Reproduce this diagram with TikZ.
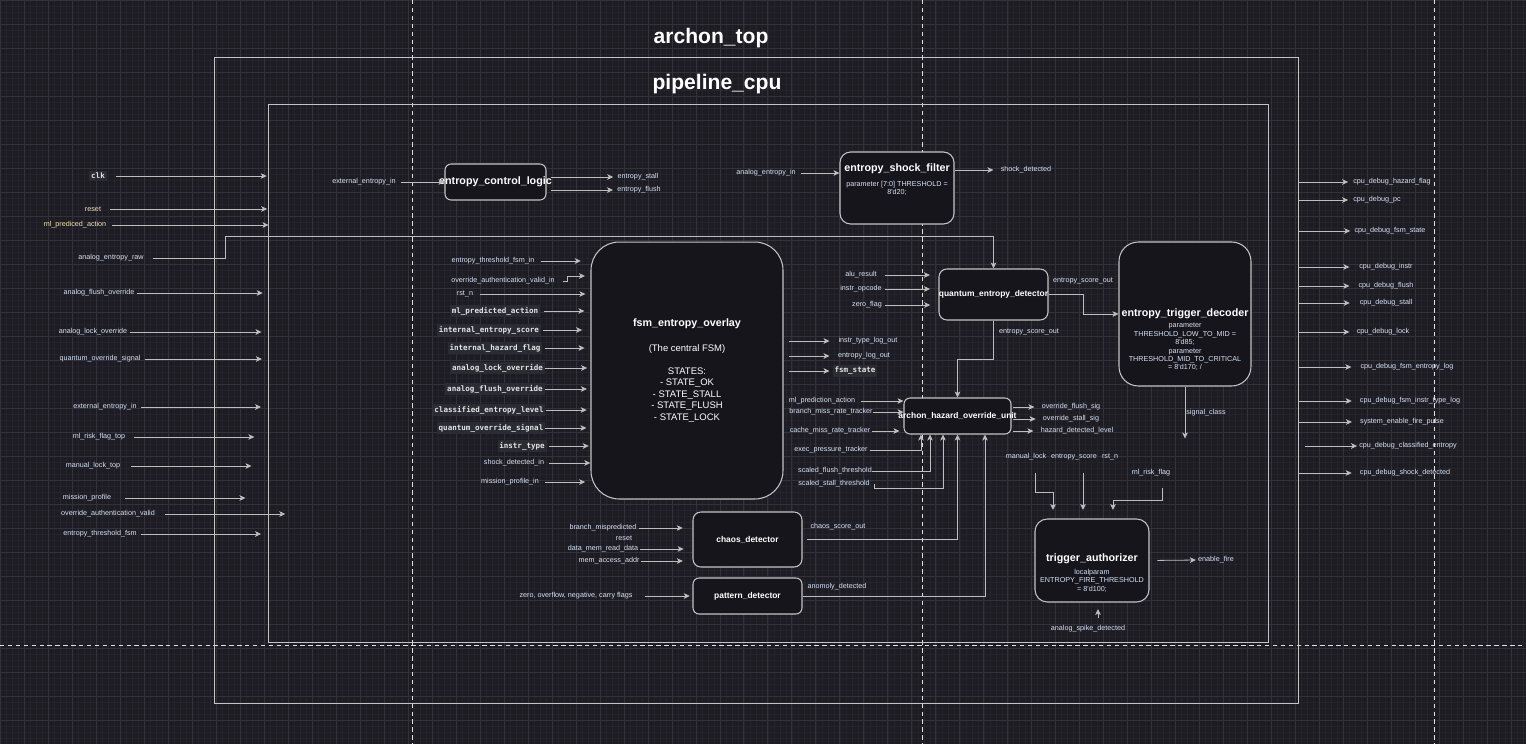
\documentclass[tikz,border=0pt]{standalone}
\usepackage{fontspec}
\setmainfont{Liberation Sans}
\setmonofont{DejaVu Sans Mono}
\usepackage{xcolor}
\usetikzlibrary{arrows.meta}

\definecolor{canvas}{HTML}{1D1C23}
\definecolor{gridminor}{HTML}{25242C}
\definecolor{gridmajor}{HTML}{33323B}
\definecolor{framecol}{HTML}{C4C4C4}
\definecolor{boxfill}{HTML}{17151C}
\definecolor{wirecol}{HTML}{BEBEBE}
\definecolor{sigtext}{HTML}{D6E2F6}
\definecolor{sigwarm}{HTML}{F2E2B4}
\definecolor{monofill}{HTML}{2B2B34}
\definecolor{monotext}{HTML}{E4E4E4}

\tikzset{
  container/.style={draw=framecol, line width=0.6pt, inner sep=0pt},
  module/.style={draw=framecol, fill=boxfill, line width=0.6pt, inner sep=0pt},
  bigtitle/.style={font=\bfseries\fontsize{12}{14}\selectfont, text=white, inner sep=0pt},
  modtitle/.style={font=\bfseries\fontsize{6.1}{7}\selectfont, text=white, inner sep=0pt},
  subtitle/.style={font=\bfseries\fontsize{4.8}{6}\selectfont, text=white, inner sep=0pt},
  paramtext/.style={font=\fontsize{4.1}{4.8}\selectfont, text=sigtext, align=center, inner sep=0pt},
  sig/.style={font=\fontsize{4.1}{5}\selectfont, text=sigtext, inner sep=0pt},
  warmsig/.style={sig, text=sigwarm},
  monosig/.style={font=\ttfamily\bfseries\fontsize{4.3}{5}\selectfont, text=monotext, fill=monofill, inner sep=1pt},
  wire/.style={draw=wirecol, line width=0.45pt},
  sigarrow/.style={wire, -{Stealth[length=3.4pt,width=3.2pt,inset=0.9pt]}},
  guide/.style={draw=white!88!black, line width=0.4pt, dash pattern=on 2.5pt off 2pt},
}

\begin{document}
\begin{tikzpicture}[x=0.02cm, y=-0.02cm]
  \useasboundingbox (0,0) rectangle (1526,744);
  \fill[canvas] (0,0) rectangle (1526,744);
  \draw[gridminor, line width=0.3pt, step=0.12cm] (0,744) grid (1526,0);
  \draw[gridmajor, line width=0.4pt, step=0.48cm] (0,744) grid (1526,0);
  \draw[guide] (412,0) -- (412,744);
  \draw[guide] (922,0) -- (922,744);
  \draw[guide] (1434,0) -- (1434,744);
  \draw[guide] (0,645) -- (1526,645);

  % frames
  \node[container, minimum width=21.7cm, minimum height=12.94cm] (top) at (756.5,380.5) {};
  \node[bigtitle] (topTitle) at (711,38) {archon\_top};
  \node[container, minimum width=20.02cm, minimum height=10.78cm] (cpu) at (768.5,373.5) {};
  \node[bigtitle] (cpuTitle) at (717,84) {pipeline\_cpu};

  % modules
  \node[module, minimum width=2.02cm, minimum height=0.72cm, rounded corners=3.5pt,
        label={[modtitle]center:entropy\_control\_logic}] (ecl) at (495.5,182) {};
  \node[module, minimum width=2.28cm, minimum height=1.44cm, rounded corners=6pt] (esf) at (897,188) {};
  \node[modtitle] (esfTitle) at (897,169) {entropy\_shock\_filter};
  \node[paramtext] (esfParam) at (897,188.5) {parameter [7:0] THRESHOLD =\\8\textquotesingle d20;};
  \node[module, minimum width=3.84cm, minimum height=5.14cm, rounded corners=16pt,
        align=center, text=white, font=\fontsize{5.4}{6.5}\selectfont] (fsm) at (687,370.5)
        {{\bfseries\fontsize{6.1}{7}\selectfont fsm\_entropy\_overlay}\\[7.5pt]
         (The central FSM)\\[6.5pt]
         STATES:\\- STATE\_OK\\- STATE\_STALL\\- STATE\_FLUSH\\- STATE\_LOCK};
  \node[module, minimum width=2.18cm, minimum height=1.02cm, rounded corners=4.5pt,
        label={[subtitle]center:quantum\_entropy\_detector}] (qed) at (993.5,294.5) {};
  \node[module, minimum width=2.64cm, minimum height=2.88cm, rounded corners=11pt,
        label={[modtitle]center:entropy\_trigger\_decoder}] (dec) at (1185,314) {};
  \node[paramtext] (decParam) at (1185,347) {parameter\\THRESHOLD\_LOW\_TO\_MID =\\8\textquotesingle d85;\\parameter\\THRESHOLD\_MID\_TO\_CRITICAL\\= 8\textquotesingle d170; /};
  \node[module, minimum width=2.14cm, minimum height=0.72cm, rounded corners=3.5pt,
        label={[subtitle]center:archon\_hazard\_override\_unit}] (hou) at (957.5,416) {};
  \node[module, minimum width=2.18cm, minimum height=1.10cm, rounded corners=4.5pt,
        label={[subtitle]center:chaos\_detector}] (chaos) at (747.5,539.5) {};
  \node[module, minimum width=2.18cm, minimum height=0.72cm, rounded corners=3.5pt,
        label={[subtitle]center:pattern\_detector}] (pat) at (747.5,596) {};
  \node[module, minimum width=2.28cm, minimum height=1.66cm, rounded corners=7pt] (tau) at (1092,560.5) {};
  \node[modtitle] (tauTitle) at (1092,559) {trigger\_authorizer};
  \node[paramtext] (tauParam) at (1092,580.5) {localparam\\ENTROPY\_FIRE\_THRESHOLD\\= 8\textquotesingle d100;};

  % top level inputs
  \node[monosig] (clk) at (98,176) {clk};
  \node[warmsig] (rstTop) at (93,209) {reset};
  \node[warmsig] (mlPredTop) at (75,225) {ml\_prediced\_action};
  \node[sig] (rawTop) at (111,258) {analog\_entropy\_raw};
  \node[sig] (flushTop) at (99,293) {analog\_flush\_override};
  \node[sig] (lockTop) at (93,332) {analog\_lock\_override};
  \node[sig] (quantTop) at (100,359) {quantum\_override\_signal};
  \node[sig] (extTop) at (105,407) {external\_entropy\_in};
  \node[sig] (riskTop) at (99,437) {ml\_risk\_flag\_top};
  \node[sig] (manualTop) at (93,466) {manual\_lock\_top};
  \node[sig] (missionTop) at (87,498) {mission\_profile};
  \node[sig] (authTop) at (108,514) {override\_authentication\_valid};
  \node[sig] (threshTop) at (100,534) {entropy\_threshold\_fsm};
  \draw[sigarrow] ([xshift=5pt]clk.east) -- ++(151,0);
  \draw[sigarrow] ([xshift=5pt]rstTop.east) -- ++(157,0);
  \draw[sigarrow] ([xshift=2.8pt]mlPredTop.east) -- ++(157,0);
  \draw[sigarrow] ([xshift=5pt]rawTop.east) -| (225,236) -| (qed.north);
  \draw[sigarrow] ([xshift=1.1pt]flushTop.east) -- ++(126,0);
  \draw[sigarrow] ([xshift=1.1pt]lockTop.east) -- ++(132,0);
  \draw[sigarrow] ([xshift=2.3pt]quantTop.east) -- ++(117,0);
  \draw[sigarrow] ([xshift=2.3pt]extTop.east) -- ++(120,0);
  \draw[sigarrow] ([xshift=5pt]riskTop.east) -- ++(120,0);
  \draw[sigarrow] ([xshift=6.2pt]manualTop.east) -- ++(120,0);
  \draw[sigarrow] ([xshift=8pt]missionTop.east) -- ++(120,0);
  \draw[sigarrow] ([xshift=5.7pt]authTop.east) -- ++(120,0);
  \draw[sigarrow] ([xshift=2.3pt]threshTop.east) -- ++(120,0);

  % entropy_control_logic and entropy_shock_filter
  \node[sig] (extIn) at (364,182) {external\_entropy\_in};
  \node[sig] (stallOut) at (638,177) {entropy\_stall};
  \node[sig] (flushOut) at (639,190) {entropy\_flush};
  \draw[sigarrow] ([xshift=2.8pt]extIn.east) -- (ecl.west);
  \draw[sigarrow, shorten <=2.8pt, shorten >=2.3pt] (ecl.east |- stallOut) -- (stallOut.west);
  \draw[sigarrow, shorten <=2.8pt, shorten >=2.3pt] (ecl.east |- flushOut) -- (flushOut.west);
  \node[sig] (anaIn) at (766,173) {analog\_entropy\_in};
  \node[sig] (shockOut) at (1026,170) {shock\_detected};
  \draw[sigarrow, shorten <=2.8pt] (anaIn.east) -- (anaIn.east -| esf.west);
  \draw[sigarrow, shorten >=4pt] (esf.east |- shockOut) -- (shockOut.west);

  % fsm_entropy_overlay
  \node[sig] (etfIn) at (493,261) {entropy\_threshold\_fsm\_in};
  \node[sig] (oavIn) at (503,281) {override\_authentication\_valid\_in};
  \node[sig] (rstIn) at (465,294) {rst\_n};
  \node[monosig] (mlpIn) at (495,311) {ml\_predicted\_action};
  \node[monosig] (iesIn) at (489,330) {internal\_entropy\_score};
  \node[monosig] (ihfIn) at (495,348) {internal\_hazard\_flag};
  \node[monosig] (aloIn) at (497.5,368) {analog\_lock\_override};
  \node[monosig] (afoIn) at (495,389) {analog\_flush\_override};
  \node[monosig] (celIn) at (489,410) {classified\_entropy\_level};
  \node[monosig] (qosIn) at (491,428) {quantum\_override\_signal};
  \node[monosig] (itIn) at (522,446) {instr\_type};
  \node[sig] (sdIn) at (514,463) {shock\_detected\_in};
  \node[sig] (mpIn) at (510,482) {mission\_profile\_in};
  \draw[sigarrow] ([xshift=3.4pt]etfIn.east) -- ++(40,0);
  \draw[sigarrow] ([xshift=4.5pt]oavIn.east) -- ++(4,0) -- ++(0,-5) -- ++(18,0);
  \draw[sigarrow] ([xshift=4pt]rstIn.east) -- ++(105,0);
  \draw[sigarrow] ([xshift=2.3pt]mlpIn.east) -- ++(40,0);
  \draw[sigarrow] ([xshift=1.1pt]iesIn.east) -- ++(39,0);
  \draw[sigarrow] ([xshift=1.1pt]ihfIn.east) -- ++(40,0);
  \draw[sigarrow] (aloIn.east) -- ++(42,0);
  \draw[sigarrow] (afoIn.east) -- ++(42,0);
  \draw[sigarrow] (celIn.east) -- ++(41,0);
  \draw[sigarrow] (qosIn.east) -- ++(41,0);
  \draw[sigarrow] ([xshift=1.1pt]itIn.east) -- ++(40,0);
  \draw[sigarrow] ([xshift=2.8pt]sdIn.east) -- ++(41,0);
  \draw[sigarrow] ([xshift=3.4pt]mpIn.east) -- ++(40,0);
  \node[sig] (itlOut) at (868,341) {instr\_type\_log\_out};
  \node[sig] (elOut) at (864,356) {entropy\_log\_out};
  \node[monosig] (fsOut) at (855,371) {fsm\_state};
  \draw[sigarrow, shorten <=3.4pt] (fsm.east |- itlOut) -- ++(46,0);
  \draw[sigarrow, shorten <=3.4pt] (fsm.east |- elOut) -- ++(46,0);
  \draw[sigarrow, shorten <=3.4pt] (fsm.east |- fsOut) -- ++(46,0);

  % quantum_entropy_detector
  \node[sig] (aluIn) at (861,275) {alu\_result};
  \node[sig] (opcIn) at (861,289) {instr\_opcode};
  \node[sig] (zfIn) at (867,305) {zero\_flag};
  \draw[sigarrow] ([xshift=4.5pt]aluIn.east) -- ++(45,0);
  \draw[sigarrow] ([xshift=1.7pt]opcIn.east) -- ++(45,0);
  \draw[sigarrow] ([xshift=1.7pt]zfIn.east) -- ++(45,0);
  \node[sig] (scoreR) at (1083,281) {entropy\_score\_out};
  \node[sig] (scoreD) at (1029,332) {entropy\_score\_out};
  \draw[sigarrow] (qed.east) -- ++(35,0) |- (dec.west);
  \draw[sigarrow] (qed.south) -- ++(0,39) -| (hou.north);

  % entropy_trigger_decoder
  \node[sig] (scOut) at (1206,413) {signal\_class};
  \draw[sigarrow] (dec.south) -- ++(0,52);

  % archon_hazard_override_unit
  \node[sig] (mlpaIn) at (822,401) {ml\_prediction\_action};
  \node[sig] (bmrIn) at (831,412) {branch\_miss\_rate\_tracker};
  \node[sig] (cmrIn) at (830,431) {cache\_miss\_rate\_tracker};
  \draw[sigarrow] ([xshift=3.4pt]mlpaIn.east) -- (mlpaIn.east -| hou.west);
  \draw[sigarrow] (bmrIn.east) -- (bmrIn.east -| hou.west);
  \draw[sigarrow, shorten >=2.3pt] ([xshift=0.6pt]cmrIn.east) -- (cmrIn.east -| hou.west);
  \node[sig] (eptIn) at (831,450) {exec\_pressure\_tracker};
  \node[sig] (sftIn) at (835,471) {scaled\_flush\_threshold};
  \node[sig] (sstIn) at (834,484) {scaled\_stall\_threshold};
  \draw[sigarrow] ([xshift=1.1pt]eptIn.east) -| (921,0 |- hou.south);
  \draw[sigarrow] (sftIn.east) -| (930,0 |- hou.south);
  \draw[sigarrow] ([xshift=2.3pt]sstIn.east) -- ++(0,4) -| (943,0 |- hou.south);
  \node[sig] (csOut) at (838,527) {chaos\_score\_out};
  \node[sig] (anOut) at (837,587) {anomoly\_detected};
  \draw[sigarrow, shorten <=2.8pt] (chaos.east) -| (hou.south);
  \draw[sigarrow] (pat.east) -| (985,0 |- hou.south);
  \node[sig] (ofsOut) at (1071,407) {override\_flush\_sig};
  \node[sig] (ossOut) at (1071,419) {override\_stall\_sig};
  \node[sig] (hdlOut) at (1077,431) {hazard\_detected\_level};
  \draw[sigarrow, shorten <=1.1pt, shorten >=4pt] (hou.east |- ofsOut) -- (ofsOut.west);
  \draw[sigarrow, shorten <=1.1pt, shorten >=4pt] (hou.east |- ossOut) -- (ossOut.west);
  \draw[sigarrow, shorten <=1.1pt, shorten >=4pt] (hou.east |- hdlOut) -- (hdlOut.west);

  % chaos_detector and pattern_detector
  \node[sig] (bmIn) at (603,528) {branch\_mispredicted};
  \node[sig] (rsIn) at (624,538) {reset};
  \node[sig] (dmrIn) at (603,549) {data\_mem\_read\_data};
  \node[sig] (maIn) at (609,561) {mem\_access\_addr};
  \node[sig] (flagsIn) at (576,596) {zero, overflow, negative, carry flags};
  \draw[sigarrow] ([xshift=1.1pt]bmIn.east) -- ++(44,0);
  \draw[sigarrow] ([xshift=0.6pt]dmrIn.east) -- ++(44,0);
  \draw[sigarrow] ([xshift=0.6pt]maIn.east) -- ++(42,0);
  \draw[sigarrow] ([xshift=6.8pt]flagsIn.east) -- ++(45,0);

  % trigger_authorizer
  \node[sig] (mlkIn) at (1026,457) {manual\_lock};
  \node[sig] (esIn) at (1074,457) {entropy\_score};
  \node[sig] (rstnIn) at (1110,457) {rst\_n};
  \node[sig] (mrfIn) at (1151,473) {ml\_risk\_flag};
  \node[sig] (spikeIn) at (1088,629) {analog\_spike\_detected};
  \node[sig] (fireOut) at (1216,560) {enable\_fire};
  \coordinate (mlkTail) at (1035,473);
  \coordinate (esTail) at (1083,473);
  \coordinate (mrfTail) at (1162,488);
  \coordinate (spikeTail) at (1098,618);
  \draw[sigarrow] (mlkTail) |- ++(18,19) -- ++(0,18);
  \draw[sigarrow] (esTail) -- ++(0,37);
  \draw[sigarrow] (mrfTail) -- ++(0,12) -| ++(-49,10);
  \draw[sigarrow] (spikeTail) -- ++(0,-9);
  \draw[sigarrow, shorten <=4.5pt, shorten >=1.1pt] (tau.east) -- (fireOut.west);

  % top level outputs
  \node[sig] (dbgHaz) at (1392,182) {cpu\_debug\_hazard\_flag};
  \node[sig] (dbgPc) at (1377,200) {cpu\_debug\_pc};
  \node[sig] (dbgFsm) at (1390,231) {cpu\_debug\_fsm\_state};
  \node[sig] (dbgInstr) at (1386,267) {cpu\_debug\_instr};
  \node[sig] (dbgFlush) at (1386,286) {cpu\_debug\_flush};
  \node[sig] (dbgStall) at (1386,303) {cpu\_debug\_stall};
  \node[sig] (dbgLock) at (1383,332) {cpu\_debug\_lock};
  \node[sig] (dbgEnt) at (1407,367) {cpu\_debug\_fsm\_entropy\_log};
  \node[sig] (dbgItl) at (1410,401) {cpu\_debug\_fsm\_instr\_type\_log};
  \node[sig] (fireSys) at (1402,422) {system\_enable\_fire\_pulse};
  \node[sig] (dbgCls) at (1408,446) {cpu\_debug\_classified\_entropy};
  \node[sig] (dbgShock) at (1405,473) {cpu\_debug\_shock\_detected};
  \draw[sigarrow, shorten >=2.8pt] (top.east |- dbgHaz) -- (dbgHaz.west);
  \draw[sigarrow, shorten >=2.8pt] (top.east |- dbgPc) -- (dbgPc.west);
  \draw[sigarrow, shorten >=2.3pt] (top.east |- dbgFsm) -- (dbgFsm.west);
  \draw[sigarrow, shorten >=5.5pt] (top.east |- dbgInstr) -- (dbgInstr.west);
  \draw[sigarrow, shorten >=5pt] (top.east |- dbgFlush) -- (dbgFlush.west);
  \draw[sigarrow, shorten >=5.5pt] (top.east |- dbgStall) -- (dbgStall.west);
  \draw[sigarrow, shorten >=4pt] (top.east |- dbgLock) -- (dbgLock.west);
  \draw[sigarrow, shorten >=5pt] (top.east |- dbgEnt) -- (dbgEnt.west);
  \draw[sigarrow, shorten >=4.5pt] (top.east |- dbgItl) -- (dbgItl.west);
  \draw[sigarrow, shorten >=4.5pt] (top.east |- fireSys) -- (fireSys.west);
  \draw[sigarrow, shorten <=3.4pt, shorten >=1.1pt] (top.east |- dbgCls) -- (dbgCls.west);
  \draw[sigarrow, shorten >=4.5pt] (top.east |- dbgShock) -- (dbgShock.west);
\end{tikzpicture}
\end{document}
